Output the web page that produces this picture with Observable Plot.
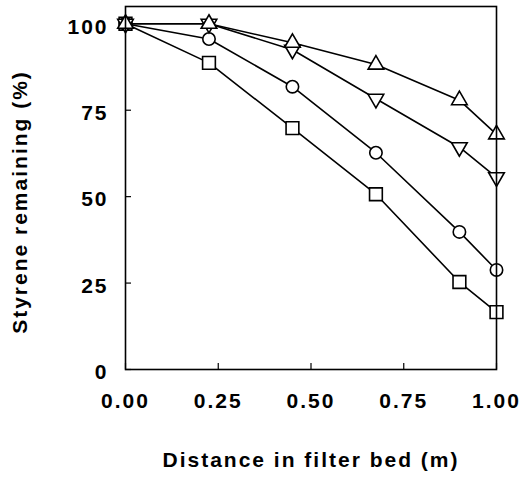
<!DOCTYPE html>
<html>
<head>
<meta charset="utf-8">
<script src="https://cdn.jsdelivr.net/npm/d3@7"></script>
<script src="https://cdn.jsdelivr.net/npm/@observablehq/plot@0.6"></script>
<style>
  html, body { margin: 0; padding: 0; background: #fff; }
</style>
</head>
<body>
<div id="chart"></div>
<script>
const distance = [0, 0.225, 0.45, 0.675, 0.9, 1.0];
const seriesNames = ["square", "circle", "downTriangle", "upTriangle"];
const squareValues = [100, 88.7, 69.8, 50.7, 25.3, 16.6];
const circleValues = [100, 95.6, 81.8, 62.7, 39.8, 28.8];
const downTriangleValues = [100, 100, 92.5, 78.3, 64.3, 55.6];
const upTriangleValues = [100, 100, 94.5, 88.2, 77.9, 68.0];
const xTicks = [0, 0.25, 0.5, 0.75, 1.0];
const yTicks = [0, 25, 50, 75, 100];
const xTitle = "Distance in filter bed (m)";
const yTitle = "Styrene remaining (%)";

const valuesBySeries = {
  square: squareValues,
  circle: circleValues,
  downTriangle: downTriangleValues,
  upTriangle: upTriangleValues
};
const data = seriesNames.flatMap(s =>
  distance.map((x, i) => ({series: s, x, y: valuesBySeries[s][i]}))
);
const bySeries = s => data.filter(d => d.series === s);

const width = 523, height = 483;
const marginLeft = 125, marginRight = 27, marginTop = 6, marginBottom = 114;
const plotW = width - marginLeft - marginRight;
const plotH = height - marginTop - marginBottom;

const markerStyle = {x: "x", y: "y", stroke: "black", strokeWidth: 1.6, fill: "white"};

const chart = Plot.plot({
  width, height, marginLeft, marginRight, marginTop, marginBottom,
  style: {fontFamily: "'Liberation Sans', Arial, sans-serif", fontSize: "21px", fontWeight: "bold", letterSpacing: "2px", color: "black", background: "white"},
  x: {domain: [0, 1], ticks: xTicks, tickFormat: d3.format(".2f")},
  y: {domain: [0, 105], ticks: yTicks},
  marks: [
    Plot.tickY(yTicks, {y: d => d, stroke: "black", strokeWidth: 1.2, insetRight: plotW - 6}),
    Plot.tickX(xTicks, {x: d => d, stroke: "black", strokeWidth: 1.2, insetTop: plotH - 6}),
    Plot.axisX({ticks: xTicks, tickFormat: d3.format(".2f"), tickSize: 0, tickPadding: 24, label: null}),
    Plot.axisY({ticks: yTicks, tickSize: 0, tickPadding: 17, dy: 3, label: null}),
    Plot.line(data, {x: "x", y: "y", z: "series", stroke: "black", strokeWidth: 1.6}),
    Plot.dot(bySeries("square"), {...markerStyle, symbol: "square", r: 7.2}),
    Plot.dot(bySeries("circle"), {...markerStyle, symbol: "circle", r: 6.2}),
    Plot.dot(bySeries("downTriangle"), {...markerStyle, symbol: "triangle", r: 5.8, rotate: 180}),
    Plot.dot(bySeries("upTriangle"), {...markerStyle, symbol: "triangle", r: 5.8}),
    Plot.frame({stroke: "black", strokeWidth: 1.6}),
    Plot.text([xTitle], {frameAnchor: "bottom", dy: 97, fontSize: 21, fontWeight: "bold"}),
    Plot.text([yTitle], {frameAnchor: "left", textAnchor: "middle", dx: -105, dy: 14, rotate: -90, fontSize: 21, fontWeight: "bold"})
  ]
});
document.getElementById("chart").appendChild(chart);
</script>
</body>
</html>
